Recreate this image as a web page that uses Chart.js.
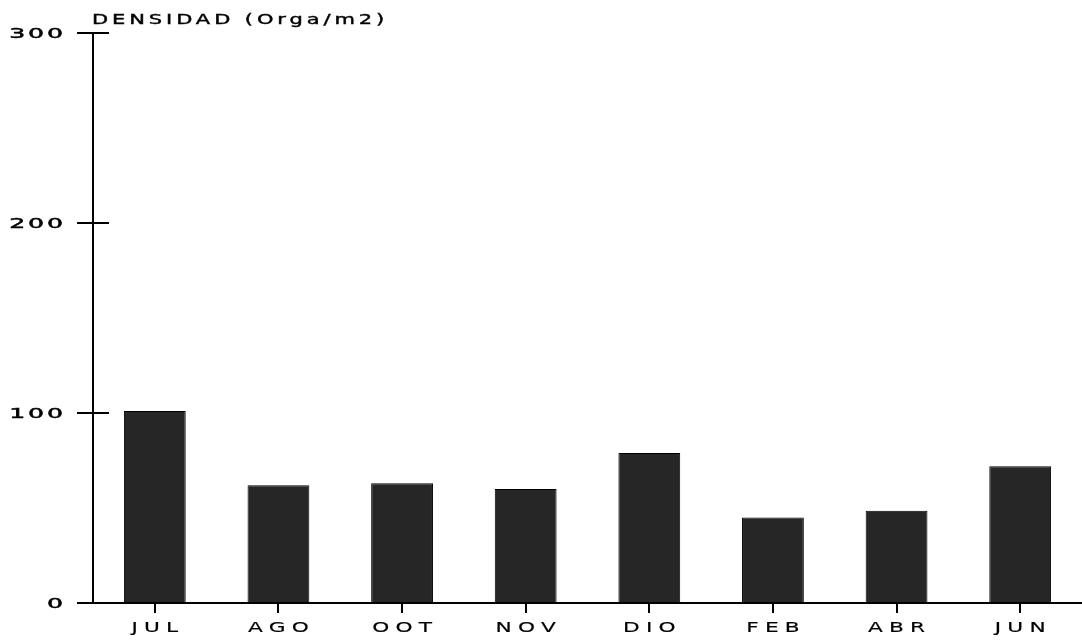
<!DOCTYPE html>
<html>
<head>
<meta charset="utf-8">
<script src="https://cdn.jsdelivr.net/npm/chart.js@4.4.1/dist/chart.umd.min.js"></script>
<style>
    body { margin: 0; background: #fff; }
</style>
</head>
<body>
<canvas id="myChart" width="1082" height="641"></canvas>
<script>
const meses = ['JUL', 'AGO', 'OOT', 'NOV', 'DIO', 'FEB', 'ABR', 'JUN'];
const densidad = [101, 62, 63, 60, 79, 45, 48.5, 72];
const yTicks = [0, 100, 200, 300];
const titulo = 'DENSIDAD (Orga/m2)';

Chart.defaults.font.family = 'DejaVu Sans';
Chart.defaults.font.size = 14;
Chart.defaults.color = '#000';

// letra ancha, tipo plotter
function texto(ctx, s, x, y, align, escala, sep, grosor) {
    ctx.save();
    ctx.font = '14px DejaVu Sans';
    ctx.letterSpacing = sep + 'px';
    ctx.fillStyle = '#000';
    ctx.strokeStyle = '#000';
    ctx.lineWidth = grosor;
    ctx.textAlign = 'left';
    ctx.textBaseline = 'alphabetic';
    const w = (ctx.measureText(s).width - sep) * escala;
    let x0 = x;
    if (align === 'center') x0 = x - w / 2;
    if (align === 'right') x0 = x - w;
    ctx.translate(x0, y);
    ctx.scale(escala, 1);
    ctx.fillText(s, 0, 0);
    if (grosor > 0) ctx.strokeText(s, 0, 0);
    ctx.restore();
}

const etiquetas = {
    id: 'etiquetas',
    afterDraw(chart) {
        const ctx = chart.ctx;
        const x = chart.scales.x;
        const y = chart.scales.y;
        const left = chart.chartArea.left;
        ctx.save();
        ctx.strokeStyle = '#000';
        ctx.lineWidth = 2;
        // marcas hacia dentro del eje Y
        y.ticks.forEach((t, i) => {
            const py = y.getPixelForTick(i);
            ctx.beginPath();
            ctx.moveTo(left, py);
            ctx.lineTo(left + 16, py);
            ctx.stroke();
            texto(ctx, String(t.value), 63, py + 5, 'right', 1.8, 1.6, 0.5);
        });
        x.ticks.forEach((t, i) => {
            texto(ctx, meses[i], x.getPixelForTick(i), 632, 'center', 1.55, 4, 0.15);
        });
        texto(ctx, titulo, 92, 24, 'left', 1.5, 2.6, 0.4);
        ctx.restore();
    }
};

new Chart(document.getElementById('myChart'), {
    type: 'bar',
    data: {
        labels: meses,
        datasets: [{
            data: densidad,
            backgroundColor: '#262626',
            borderColor: '#000',
            borderWidth: 1,
            barPercentage: 0.5,
            categoryPercentage: 1.0
        }]
    },
    options: {
        responsive: false,
        animation: false,
        layout: {
            padding: {top: 33, right: 0, left: 0, bottom: 28}
        },
        plugins: {
            legend: {display: false},
            tooltip: {enabled: false}
        },
        scales: {
            x: {
                grid: {
                    offset: false,
                    drawOnChartArea: false,
                    tickLength: 10,
                    color: '#000',
                    lineWidth: 2
                },
                border: {color: '#000', width: 2},
                ticks: {display: false}
            },
            y: {
                min: 0,
                max: 300,
                afterFit(scale) { scale.width = 93; },
                afterBuildTicks(scale) {
                    scale.ticks = yTicks.map(v => ({value: v}));
                },
                grid: {
                    drawOnChartArea: false,
                    tickLength: 16,
                    color: '#000',
                    lineWidth: 2
                },
                border: {color: '#000', width: 2},
                ticks: {display: false}
            }
        }
    },
    plugins: [etiquetas]
});
</script>
</body>
</html>
